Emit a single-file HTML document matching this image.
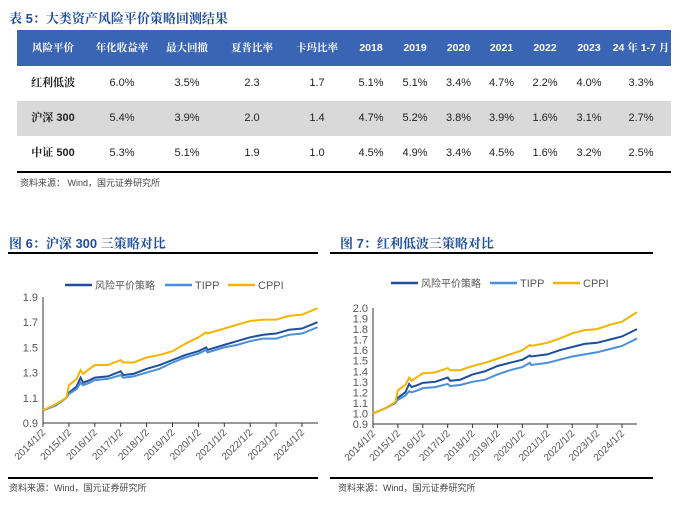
<!DOCTYPE html>
<html><head><meta charset="utf-8">
<style>
body{margin:0;width:700px;height:509px;background:#fff;position:relative;overflow:hidden;font-family:"Liberation Sans","Noto Sans CJK SC",sans-serif}
.t{position:absolute;font-weight:bold;color:#1f4e9c;font-size:13px;line-height:15px;font-family:"Liberation Sans","Noto Serif CJK SC",serif}
table{position:absolute;left:17px;top:30px;width:654px;border-collapse:collapse;border-spacing:0;font-size:11px;color:#222;table-layout:fixed}
th,td{padding:0;line-height:13px}
th{background:#3a64b4;color:#fff;height:36px;font-weight:bold;font-size:10.5px;font-family:"Liberation Sans","Noto Serif CJK SC",sans-serif}
td{height:35px;text-align:center}
tr.g td{background:#d9d9d9}
td.n{font-weight:bold;font-family:"Liberation Sans","Noto Serif CJK SC",sans-serif}
.src{position:absolute;font-size:9px;line-height:11px;color:#444}
</style></head><body>
<div class="t" style="left:9px;top:11px">表 5：大类资产风险平价策略回测结果</div>
<table>
<colgroup><col style="width:72px"><col style="width:66px"><col style="width:64px"><col style="width:66px"><col style="width:64px"><col style="width:44px"><col style="width:44px"><col style="width:43px"><col style="width:43px"><col style="width:44px"><col style="width:44px"><col></colgroup>
<tr><th>风险平价</th><th>年化收益率</th><th>最大回撤</th><th>夏普比率</th><th>卡玛比率</th><th>2018</th><th>2019</th><th>2020</th><th>2021</th><th>2022</th><th>2023</th><th>24 年 1-7 月</th></tr>
<tr><td class="n">红利低波</td><td>6.0%</td><td>3.5%</td><td>2.3</td><td>1.7</td><td>5.1%</td><td>5.1%</td><td>3.4%</td><td>4.7%</td><td>2.2%</td><td>4.0%</td><td>3.3%</td></tr>
<tr class="g"><td class="n">沪深 300</td><td>5.4%</td><td>3.9%</td><td>2.0</td><td>1.4</td><td>4.7%</td><td>5.2%</td><td>3.8%</td><td>3.9%</td><td>1.6%</td><td>3.1%</td><td>2.7%</td></tr>
<tr><td class="n">中证 500</td><td>5.3%</td><td>5.1%</td><td>1.9</td><td>1.0</td><td>4.5%</td><td>4.9%</td><td>3.4%</td><td>4.5%</td><td>1.6%</td><td>3.2%</td><td>2.5%</td></tr>
</table>
<div style="position:absolute;left:17px;top:171px;width:654px;height:2px;background:#000"></div>
<div class="src" style="left:20px;top:178px">资料来源： Wind，国元证券研究所</div>

<div class="t" style="left:9px;top:236px">图 6：沪深 300 三策略对比</div>
<div class="t" style="left:340px;top:236px">图 7：红利低波三策略对比</div>
<svg id="s" width="700" height="509" style="position:absolute;left:0;top:0"></svg>
<div class="src" style="left:9px;top:483px">资料来源：Wind，国元证券研究所</div>
<div class="src" style="left:338px;top:483px">资料来源：Wind，国元证券研究所</div>
<script>
const dates=[2014.0,2014.5,2014.9,2015.0,2015.3,2015.45,2015.55,2015.8,2016.0,2016.5,2017.0,2017.1,2017.5,2018.0,2018.5,2019.0,2019.5,2020.0,2020.3,2020.35,2021.0,2021.5,2022.0,2022.5,2023.0,2023.5,2024.0,2024.6];
const xTickLabels=["2014/1/2","2015/1/2","2016/1/2","2017/1/2","2018/1/2","2019/1/2","2020/1/2","2021/1/2","2022/1/2","2023/1/2","2024/1/2"];
const seriesNames=["风险平价策略","TIPP","CPPI"];
const hsRP=[1.0,1.04,1.10,1.14,1.19,1.26,1.22,1.24,1.26,1.27,1.31,1.28,1.29,1.33,1.36,1.40,1.44,1.47,1.50,1.48,1.52,1.55,1.58,1.60,1.61,1.64,1.65,1.70];
const hsTIPP=[1.0,1.04,1.10,1.13,1.17,1.22,1.20,1.22,1.24,1.25,1.28,1.26,1.27,1.30,1.33,1.38,1.42,1.45,1.48,1.46,1.50,1.52,1.55,1.57,1.57,1.60,1.61,1.66];
const hsCPPI=[1.0,1.05,1.10,1.20,1.25,1.32,1.29,1.33,1.36,1.36,1.40,1.38,1.38,1.42,1.44,1.47,1.53,1.58,1.62,1.61,1.65,1.68,1.71,1.72,1.72,1.75,1.76,1.81];
const dvRP=[1.0,1.05,1.10,1.15,1.20,1.28,1.25,1.27,1.29,1.30,1.34,1.31,1.32,1.37,1.40,1.45,1.48,1.51,1.55,1.54,1.56,1.60,1.63,1.66,1.67,1.70,1.73,1.80];
const dvTIPP=[1.0,1.05,1.10,1.13,1.17,1.21,1.20,1.22,1.24,1.25,1.28,1.26,1.27,1.30,1.32,1.37,1.41,1.44,1.48,1.46,1.48,1.51,1.54,1.56,1.58,1.61,1.64,1.71];
const dvCPPI=[1.0,1.05,1.11,1.22,1.27,1.34,1.31,1.35,1.38,1.39,1.43,1.41,1.41,1.45,1.48,1.52,1.56,1.60,1.65,1.64,1.67,1.71,1.76,1.79,1.80,1.84,1.87,1.96];
const hsYTicks=[0.9,1.1,1.3,1.5,1.7,1.9];
const dvYTicks=[0.9,1.0,1.1,1.2,1.3,1.4,1.5,1.6,1.7,1.8,1.9,2.0];
const colors=["#1f4e9c","#4a90d9","#f5b400"];
const svg=document.getElementById('s');const NS="http://www.w3.org/2000/svg";
function mk(t,a,p){const e=document.createElementNS(NS,t);for(const k in a)e.setAttribute(k,a[k]);(p||svg).appendChild(e);return e;}
function chart(cfg){
 const g=mk('g',{});
 
 
 const X=d=>cfg.x0+(d-2014)*cfg.yr, Y=v=>cfg.y0+(v-cfg.ymin)/(cfg.ymax-cfg.ymin)*(cfg.y1-cfg.y0);
 mk('line',{x1:cfg.rl,y1:253,x2:cfg.rr,y2:253,stroke:'#000','stroke-width':2},g);
 mk('line',{x1:cfg.rl,y1:478,x2:cfg.rr,y2:478,stroke:'#000','stroke-width':2},g);
 cfg.yt.forEach(v=>{const t=mk('text',{x:cfg.x0-5,y:Y(v)+4,'text-anchor':'end','font-size':11,fill:'#555'},g);t.textContent=v.toFixed(1);});
 mk('line',{x1:cfg.x0,y1:cfg.y0,x2:cfg.x0,y2:Y(cfg.ymax),stroke:'#333'},g);
 mk('line',{x1:cfg.x0,y1:cfg.y0,x2:cfg.x1,y2:cfg.y0,stroke:'#333'},g);
 xTickLabels.forEach((l,i)=>{const x=X(2014+i);mk('line',{x1:x,y1:cfg.y0,x2:x,y2:cfg.y0+4,stroke:'#333'},g);
  const t=mk('text',{x:x+3,y:cfg.y0+10,'text-anchor':'end','font-size':10,fill:'#555',transform:`rotate(-45 ${x+3} ${cfg.y0+10})`},g);t.textContent=l;});
 cfg.series.forEach((s,i)=>{const p=mk('polyline',{points:s.map((v,j)=>X(dates[j])+','+Y(v)).join(' '),fill:'none',stroke:colors[i],'stroke-width':2},g);});
 cfg.leg.forEach((lx,i)=>{mk('line',{x1:lx,y1:cfg.ly,x2:lx+27,y2:cfg.ly,stroke:colors[i],'stroke-width':2.5},g);
  const t=mk('text',{x:lx+30,y:cfg.ly+4,'font-size':i?11:10,fill:'#555'},g);t.textContent=seriesNames[i];});
}
chart({name:'fig6-chart',x0:43,x1:318,yr:25.9,y0:423,y1:297,ymin:0.9,ymax:1.9,yt:hsYTicks,series:[hsRP,hsTIPP,hsCPPI],leg:[65,165,228],ly:285,rl:8,rr:318});
chart({name:'fig7-chart',x0:373,x1:637,yr:24.9,y0:424,y1:308,ymin:0.9,ymax:2.0,yt:dvYTicks,series:[dvRP,dvTIPP,dvCPPI],leg:[391,490,553],ly:283,rl:330,rr:653});
</script>
</body></html>
